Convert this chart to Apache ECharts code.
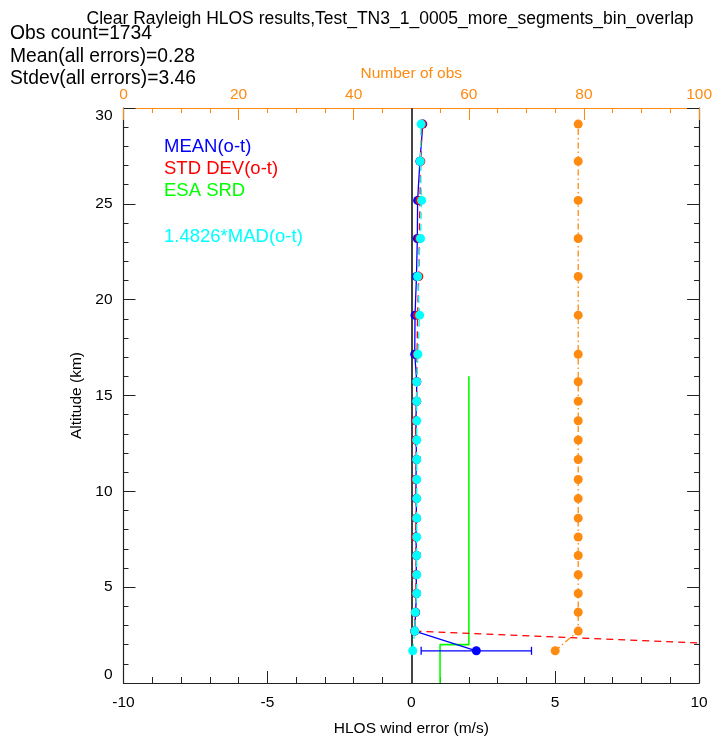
<!DOCTYPE html>
<html>
<head>
<meta charset="utf-8">
<script src="https://cdn.jsdelivr.net/npm/echarts@6/dist/echarts.min.js"></script>
<style>
  html, body { margin: 0; padding: 0; background: #ffffff; }
  #chart { width: 715px; height: 742px; }
</style>
</head>
<body>
<div id="chart"></div>
<script>
// Bin altitudes (km), bottom to top
const altitude = [1.68, 2.71, 3.69, 4.67, 5.65, 6.65, 7.62, 8.60, 9.62, 10.62, 11.66,
                  12.68, 13.68, 14.70, 15.72, 17.15, 19.19, 21.21, 23.19, 25.18, 27.22, 29.16];
// Mean O-B HLOS error per bin (m/s)
const meanErr = [2.26, 0.12, 0.15, 0.18, 0.17, 0.18, 0.16, 0.18, 0.17, 0.16, 0.18,
                 0.17, 0.16, 0.18, 0.19, 0.12, 0.13, 0.18, 0.21, 0.22, 0.30, 0.40];
// Standard deviation per bin (m/s)
const stdErr = [16.6, 0.11, 0.14, 0.17, 0.16, 0.18, 0.15, 0.17, 0.18, 0.15, 0.18,
                0.16, 0.15, 0.19, 0.19, 0.20, 0.22, 0.26, 0.28, 0.30, 0.33, 0.38];
// Scaled MAD per bin (m/s)
const madErr = [0.05, 0.12, 0.14, 0.19, 0.19, 0.19, 0.19, 0.19, 0.19, 0.19, 0.19,
                0.19, 0.19, 0.19, 0.19, 0.23, 0.29, 0.22, 0.32, 0.36, 0.31, 0.34];
// Number of observations per bin
const obsCount = [75, 79, 79, 79, 79, 79, 79, 79, 79, 79, 79,
                  79, 79, 79, 79, 79, 79, 79, 79, 79, 79, 79];
// ESA system requirement (step profile): [error, altitude]
const srdX = [1, 1, 2, 2];
const srdAlt = [0, 2, 2, 16];

const titleText = 'Clear Rayleigh HLOS results,Test_TN3_1_0005_more_segments_bin_overlap';
const statLines = ['Obs count=1734', 'Mean(all errors)=0.28', 'Stdev(all errors)=3.46'];
const legendItems = [
  { text: 'MEAN(o-t)', color: '#0000ff', y: 147 },
  { text: 'STD DEV(o-t)', color: '#ff0000', y: 169 },
  { text: 'ESA SRD', color: '#00ff00', y: 191 },
  { text: '1.4826*MAD(o-t)', color: '#00ffff', y: 237 }
];

const FONT = '"Liberation Sans", Arial, Helvetica, sans-serif';
const ORANGE = '#ff8a10';
const AXIS = '#222222';

const pairs = (xs) => xs.map((x, i) => [x, altitude[i]]);
const errBars = meanErr.map((m, i) => {
  const se = stdErr[i] / Math.sqrt(obsCount[i]);
  return [m - se, m + se, altitude[i]];
});

const chart = echarts.init(document.getElementById('chart'), null, { renderer: 'canvas' });

const graphic = [
  { type: 'text', x: 390, y: 19, style: { text: titleText, font: '17.5px ' + FONT, fill: '#000', textAlign: 'center', textVerticalAlign: 'middle' } }
].concat(statLines.map((t, i) => ({
  type: 'text', x: 10, y: 34 + i * 22.5,
  style: { text: t, font: '19.3px ' + FONT, fill: '#000', textAlign: 'left', textVerticalAlign: 'middle' }
}))).concat(legendItems.map(it => ({
  type: 'text', x: 164, y: it.y,
  style: { text: it.text, font: '18.5px ' + FONT, fill: it.color, textAlign: 'left', textVerticalAlign: 'middle' }
})));

const option = {
  animation: false,
  backgroundColor: '#ffffff',
  textStyle: { fontFamily: FONT },
  graphic: graphic,
  grid: { left: 123.5, right: 15, top: 108, bottom: 56, containLabel: false },
  xAxis: [
    {
      type: 'value', min: -10, max: 10, interval: 5, position: 'bottom',
      name: 'HLOS wind error (m/s)', nameLocation: 'middle', nameGap: 38,
      nameTextStyle: { fontSize: 15.5, color: '#000', fontFamily: FONT },
      axisLine: { show: true, onZero: false, lineStyle: { color: AXIS, width: 1.2 } },
      axisTick: { show: true, inside: true, length: 12, lineStyle: { color: AXIS } },
      minorTick: { show: true, splitNumber: 5, length: 6, lineStyle: { color: AXIS } },
      axisLabel: { fontSize: 15.5, color: '#000', margin: 12, fontFamily: FONT },
      splitLine: { show: false }
    },
    {
      type: 'value', min: 0, max: 100, interval: 20, position: 'top',
      name: 'Number of obs', nameLocation: 'middle', nameGap: 25,
      nameTextStyle: { fontSize: 15.5, color: ORANGE, fontFamily: FONT },
      axisLine: { show: true, onZero: false, lineStyle: { color: ORANGE, width: 1.2 } },
      axisTick: { show: true, inside: true, length: 12, lineStyle: { color: ORANGE } },
      minorTick: { show: true, splitNumber: 4, length: 5, lineStyle: { color: ORANGE } },
      axisLabel: { fontSize: 15.5, color: ORANGE, margin: 5, fontFamily: FONT },
      splitLine: { show: false }
    }
  ],
  yAxis: [
    {
      type: 'value', min: 0, max: 30, interval: 5, position: 'left',
      name: 'Altitude (km)', nameLocation: 'middle', nameGap: 35, nameRotate: 90,
      nameTextStyle: { fontSize: 15.5, color: '#000', fontFamily: FONT },
      axisLine: { show: true, onZero: false, lineStyle: { color: AXIS, width: 1.2 } },
      axisTick: { show: true, inside: true, length: 12, lineStyle: { color: AXIS } },
      minorTick: { show: true, splitNumber: 5, length: 5, lineStyle: { color: AXIS } },
      axisLabel: {
        fontSize: 15.5, color: '#000', margin: 11, fontFamily: FONT,
        verticalAlignMinLabel: 'bottom', verticalAlignMaxLabel: 'top'
      },
      splitLine: { show: false }
    },
    {
      type: 'value', min: 0, max: 30, interval: 5, position: 'right',
      axisLine: { show: true, onZero: false, lineStyle: { color: AXIS, width: 1.2 } },
      axisTick: { show: true, inside: true, length: 12, lineStyle: { color: AXIS } },
      minorTick: { show: true, splitNumber: 5, length: 5, lineStyle: { color: AXIS } },
      axisLabel: { show: false },
      splitLine: { show: false }
    }
  ],
  series: [
    {
      name: 'Number of obs', type: 'line', xAxisIndex: 1, yAxisIndex: 0, z: 2,
      data: obsCount.map((c, i) => [c, altitude[i]]),
      symbol: 'circle', symbolSize: 9, showSymbol: true,
      itemStyle: { color: ORANGE },
      lineStyle: { color: ORANGE, width: 1.3, type: [6, 3, 1.5, 3] }
    },
    {
      name: 'ESA SRD', type: 'line', z: 3,
      data: srdX.map((x, i) => [x, srdAlt[i]]),
      symbol: 'none',
      lineStyle: { color: '#00ff00', width: 1.6 }
    },
    {
      name: 'zero', type: 'line', z: 3, data: [],
      markLine: {
        silent: true, symbol: 'none', label: { show: false },
        lineStyle: { color: '#444444', width: 2, type: 'solid' },
        data: [{ xAxis: 0 }]
      }
    },
    {
      name: 'MEAN(o-t) error', type: 'custom', z: 4,
      data: errBars,
      renderItem: function (params, api) {
        const lo = api.coord([api.value(0), api.value(2)]);
        const hi = api.coord([api.value(1), api.value(2)]);
        const h = 4;
        const st = { stroke: '#0000ff', lineWidth: 1.3 };
        return {
          type: 'group',
          children: [
            { type: 'line', shape: { x1: lo[0], y1: lo[1], x2: hi[0], y2: hi[1] }, style: st },
            { type: 'line', shape: { x1: lo[0], y1: lo[1] - h, x2: lo[0], y2: lo[1] + h }, style: st },
            { type: 'line', shape: { x1: hi[0], y1: hi[1] - h, x2: hi[0], y2: hi[1] + h }, style: st }
          ]
        };
      }
    },
    {
      name: 'MEAN(o-t)', type: 'line', z: 5,
      data: pairs(meanErr),
      symbol: 'circle', symbolSize: 9,
      itemStyle: { color: '#0000ff' },
      lineStyle: { color: '#0000ff', width: 1.3 }
    },
    {
      name: 'STD DEV(o-t)', type: 'line', z: 6,
      data: pairs(stdErr),
      symbol: 'circle', symbolSize: 9,
      itemStyle: { color: '#ff0000' },
      lineStyle: { color: '#ff0000', width: 1.3, type: [7, 5] }
    },
    {
      name: '1.4826*MAD(o-t)', type: 'line', z: 7,
      data: pairs(madErr),
      symbol: 'circle', symbolSize: 9,
      itemStyle: { color: '#00ffff' },
      lineStyle: { color: '#00ffff', width: 1.3, type: [7, 5] }
    }
  ]
};

chart.setOption(option);
</script>
</body>
</html>
